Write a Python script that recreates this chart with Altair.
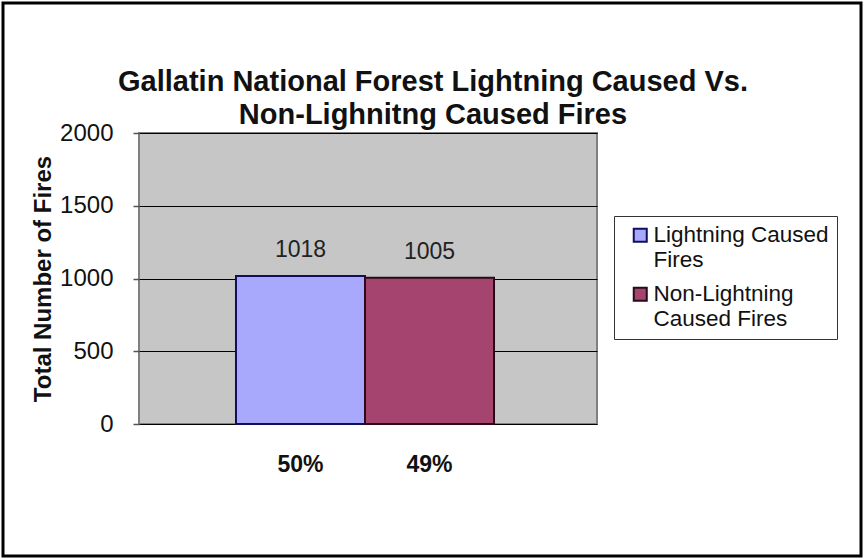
import altair as alt
import pandas as pd

categories = ["Lightning Caused Fires", "Non-Lightning Caused Fires"]
counts = [1018, 1005]
pct_labels = ["50%", "49%"]
legend_lines = [["Lightning Caused", "Fires"], ["Non-Lightning", "Caused Fires"]]
y_ticks = [0, 500, 1000, 1500, 2000]
title_lines = ["Gallatin National Forest Lightning Caused Vs.", "Non-Lighnitng Caused Fires"]

bar_colors = ["#a8a8fc", "#a5456f"]
bar_strokes = ["#10105a", "#2a0a18"]

df = pd.DataFrame({"cat": categories, "count": counts, "pct": pct_labels})

FONT = "Liberation Sans"
W, H = 458, 291


def ternary(values, mapping_fn):
    expr = "''"
    for c, v in reversed(list(zip(categories, values))):
        expr = f"datum.value == '{c}' ? {mapping_fn(v)} : ({expr})"
    return expr


pct_expr = ternary(pct_labels, lambda v: f"'{v}'")
legend_expr = ternary(legend_lines, lambda v: "[" + ",".join(f"'{s}'" for s in v) + "]")

x_enc = alt.X(
    "cat:N",
    sort=categories,
    scale=alt.Scale(paddingInner=0, paddingOuter=0.775, align=0.485),
    axis=alt.Axis(
        title=None, ticks=False, domain=False, grid=False, labelAngle=0,
        labelExpr=pct_expr, labelFontSize=23, labelFontWeight="bold",
        labelColor="#111", labelPadding=29, labelBaseline="top", labelFont=FONT,
    ),
)

y_enc = alt.Y(
    "count:Q",
    scale=alt.Scale(domain=[0, 2000], nice=False),
    axis=alt.Axis(
        title="Total Number of Fires", values=y_ticks, grid=True, format="d",
        gridColor="#000000", gridWidth=1, domain=False,
        tickColor="#555555", tickSize=6, tickWidth=1.5,
        labelFontSize=24, labelColor="#111", labelPadding=20, labelFont=FONT,
        titleFontSize=24, titleFontWeight="bold", titleColor="#111",
        titlePadding=4, titleFont=FONT,
    ),
)

bars = alt.Chart(df).mark_bar(strokeWidth=2, opacity=1).encode(
    x=x_enc,
    y=y_enc,
    fill=alt.Fill(
        "cat:N",
        scale=alt.Scale(domain=categories, range=bar_colors),
        legend=alt.Legend(
            title=None, orient="none", legendX=475, legendY=83,
            strokeColor="#333333", fillColor="white", padding=8,
            labelFontSize=22.5, labelFont=FONT, labelColor="#111",
            labelExpr=legend_expr, labelLimit=400, labelBaseline="middle",
            symbolType="square", symbolSize=169,
            symbolStrokeColor="#222222", symbolStrokeWidth=2,
            symbolOpacity=1, symbolOffset=7, labelOffset=2, rowPadding=11,
        ),
    ),
    stroke=alt.Stroke("cat:N", scale=alt.Scale(domain=categories, range=bar_strokes), legend=None),
)

labels = alt.Chart(df).mark_text(
    baseline="bottom", dy=-14, fontSize=23, font=FONT, color="#222"
).encode(
    x=alt.X("cat:N", sort=categories),
    y="count:Q",
    text="count:Q",
)

frame = alt.Chart(pd.DataFrame({"f": [0]})).mark_rect(
    fill=None, stroke="#000000", strokeWidth=3
).encode(
    x=alt.value(-136), x2=alt.value(722), y=alt.value(-130), y2=alt.value(423)
)

chart = alt.layer(bars, labels, frame).properties(
    width=W,
    height=H,
    padding={"left": 139, "top": 133, "right": 269, "bottom": 136},
    autosize=alt.AutoSizeParams(type="none"),
    title=alt.TitleParams(
        text=title_lines, fontSize=29, fontWeight="bold", font=FONT,
        color="#111", anchor="middle", frame="group", dx=65, offset=-128,
        lineHeight=33,
    ),
    background="white",
).configure(
    font=FONT
).configure_view(
    fill="#c6c6c6", stroke="#808080", strokeWidth=2
)

chart.save("out.html", embed_options={"renderer": "svg", "actions": False})
